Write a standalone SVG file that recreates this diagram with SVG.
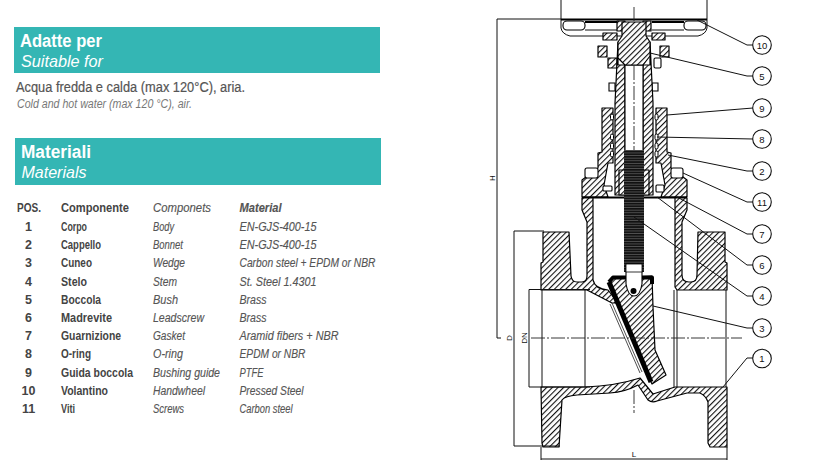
<svg xmlns="http://www.w3.org/2000/svg" width="820" height="462" viewBox="0 0 820 462">
<style>
text{font-family:"Liberation Sans",Arial,sans-serif}
.band{fill:#34b6b4}
.h1{font-size:18px;font-weight:700;fill:#fff}
.h2{font-size:17px;font-style:italic;fill:#fff}
.b{font-size:12.5px;font-weight:700;fill:#444}
.i{font-size:12.5px;font-style:italic;fill:#555;stroke:#555;stroke-width:.15}
.num{font-size:12.5px;font-weight:700;fill:#444;text-anchor:middle}
.h{fill:url(#hatch);stroke:#000;stroke-width:1.2;stroke-linejoin:round}
.w{fill:#fff;stroke:#000;stroke-width:1.1}
.l{fill:none;stroke:#111;stroke-width:1}
.cl{fill:none;stroke:#222;stroke-width:.9;stroke-dasharray:14 2 2 2}
.dim{font-size:8px;fill:#111;text-anchor:middle}
.lead{fill:none;stroke:#111;stroke-width:1}
.c{fill:#fff;stroke:#111;stroke-width:1.1}
.ct{font-size:9.5px;fill:#111;text-anchor:middle}
</style>
<defs>
<pattern id="hatch" width="4" height="4" patternUnits="userSpaceOnUse" patternTransform="rotate(45)"><rect width="4" height="4" fill="#fff"/><rect x="0" y="0" width="1.1" height="4" fill="#111"/></pattern>
<pattern id="thread" width="4" height="2.6" patternUnits="userSpaceOnUse"><rect width="4" height="2.6" fill="#111"/><rect y="1.7" width="4" height=".6" fill="#777"/></pattern>
</defs>
<rect width="820" height="462" fill="#fff"/>

<g id="banner-suitable"><rect class="band" x="14" y="27" width="366" height="46"/>
<text class="h1" x="20" y="46.500" textLength="82" lengthAdjust="spacingAndGlyphs">Adatte per</text>
<text class="h2" x="21" y="66.500" textLength="82" lengthAdjust="spacingAndGlyphs">Suitable for</text></g>
<text x="16" y="91.500" font-size="14" fill="#555" stroke="#555" stroke-width=".2" textLength="229" lengthAdjust="spacingAndGlyphs">Acqua fredda e calda (max 120°C), aria.</text>
<text x="17" y="107.500" font-size="12" font-style="italic" fill="#777" textLength="175" lengthAdjust="spacingAndGlyphs">Cold and hot water (max 120 °C), air.</text>
<g id="banner-materials"><rect class="band" x="15" y="138" width="366" height="47"/>
<text class="h1" x="21" y="157.500" textLength="70" lengthAdjust="spacingAndGlyphs">Materiali</text>
<text class="h2" x="21.500" y="177.500" textLength="65" lengthAdjust="spacingAndGlyphs">Materials</text></g>

<g id="table">
<text class="b" x="17" y="212.300" textLength="24" lengthAdjust="spacingAndGlyphs">POS.</text><text class="b" x="61" y="212.300" textLength="68" lengthAdjust="spacingAndGlyphs">Componente</text><text class="i" x="153" y="212.300" textLength="58" lengthAdjust="spacingAndGlyphs">Componets</text><text class="i" x="239.500" y="212.300" textLength="42" lengthAdjust="spacingAndGlyphs" font-weight="700">Material</text>
<text class="num" x="28.500" y="231">1</text><text class="b" x="61" y="231" textLength="26" lengthAdjust="spacingAndGlyphs">Corpo</text><text class="i" x="153" y="231" textLength="21" lengthAdjust="spacingAndGlyphs">Body</text><text class="i" x="239.500" y="231" textLength="77" lengthAdjust="spacingAndGlyphs">EN-GJS-400-15</text>
<text class="num" x="28.500" y="249.200">2</text><text class="b" x="61" y="249.200" textLength="40" lengthAdjust="spacingAndGlyphs">Cappello</text><text class="i" x="153" y="249.200" textLength="30" lengthAdjust="spacingAndGlyphs">Bonnet</text><text class="i" x="239.500" y="249.200" textLength="77" lengthAdjust="spacingAndGlyphs">EN-GJS-400-15</text>
<text class="num" x="28.500" y="267.400">3</text><text class="b" x="61" y="267.400" textLength="31" lengthAdjust="spacingAndGlyphs">Cuneo</text><text class="i" x="153" y="267.400" textLength="32" lengthAdjust="spacingAndGlyphs">Wedge</text><text class="i" x="239.500" y="267.400" textLength="136" lengthAdjust="spacingAndGlyphs">Carbon steel + EPDM or NBR</text>
<text class="num" x="28.500" y="285.600">4</text><text class="b" x="61" y="285.600" textLength="26" lengthAdjust="spacingAndGlyphs">Stelo</text><text class="i" x="153" y="285.600" textLength="24" lengthAdjust="spacingAndGlyphs">Stem</text><text class="i" x="239.500" y="285.600" textLength="77" lengthAdjust="spacingAndGlyphs">St. Steel 1.4301</text>
<text class="num" x="28.500" y="303.800">5</text><text class="b" x="61" y="303.800" textLength="40" lengthAdjust="spacingAndGlyphs">Boccola</text><text class="i" x="153" y="303.800" textLength="25" lengthAdjust="spacingAndGlyphs">Bush</text><text class="i" x="239.500" y="303.800" textLength="27" lengthAdjust="spacingAndGlyphs">Brass</text>
<text class="num" x="28.500" y="322">6</text><text class="b" x="61" y="322" textLength="51" lengthAdjust="spacingAndGlyphs">Madrevite</text><text class="i" x="153" y="322" textLength="51" lengthAdjust="spacingAndGlyphs">Leadscrew</text><text class="i" x="239.500" y="322" textLength="27" lengthAdjust="spacingAndGlyphs">Brass</text>
<text class="num" x="28.500" y="340.200">7</text><text class="b" x="61" y="340.200" textLength="60" lengthAdjust="spacingAndGlyphs">Guarnizione</text><text class="i" x="153" y="340.200" textLength="32" lengthAdjust="spacingAndGlyphs">Gasket</text><text class="i" x="239.500" y="340.200" textLength="99" lengthAdjust="spacingAndGlyphs">Aramid fibers + NBR</text>
<text class="num" x="28.500" y="358.400">8</text><text class="b" x="61" y="358.400" textLength="30" lengthAdjust="spacingAndGlyphs">O-ring</text><text class="i" x="153" y="358.400" textLength="30" lengthAdjust="spacingAndGlyphs">O-ring</text><text class="i" x="239.500" y="358.400" textLength="66" lengthAdjust="spacingAndGlyphs">EPDM or NBR</text>
<text class="num" x="28.500" y="376.600">9</text><text class="b" x="61" y="376.600" textLength="72" lengthAdjust="spacingAndGlyphs">Guida boccola</text><text class="i" x="153" y="376.600" textLength="67" lengthAdjust="spacingAndGlyphs">Bushing guide</text><text class="i" x="239.500" y="376.600" textLength="24" lengthAdjust="spacingAndGlyphs">PTFE</text>
<text class="num" x="28.500" y="394.800">10</text><text class="b" x="61" y="394.800" textLength="47" lengthAdjust="spacingAndGlyphs">Volantino</text><text class="i" x="153" y="394.800" textLength="52" lengthAdjust="spacingAndGlyphs">Handwheel</text><text class="i" x="239.500" y="394.800" textLength="64" lengthAdjust="spacingAndGlyphs">Pressed Steel</text>
<text class="num" x="28.500" y="413">11</text><text class="b" x="61" y="413" textLength="14" lengthAdjust="spacingAndGlyphs">Viti</text><text class="i" x="153" y="413" textLength="31" lengthAdjust="spacingAndGlyphs">Screws</text><text class="i" x="239.500" y="413" textLength="53" lengthAdjust="spacingAndGlyphs">Carbon steel</text>
</g>

<g id="valve">
<path class="l" d="M561,0V28Q562,34 570,36H698Q706,34 707,28V0" stroke-width="1.400"/>
<path d="M561,19.500H707" stroke="#000" stroke-width="1.800" fill="none"/>
<rect class="w" x="563" y="21" width="22" height="9" rx="4" stroke-width="1.500"/><rect class="w" x="684" y="21" width="22" height="9" rx="4" stroke-width="1.500"/>
<path d="M585,22H617M652,22H684" stroke="#000" stroke-width="2" fill="none"/>
<path class="l" d="M585,30H617M652,30H684"/>
<path class="h" d="M603,33H617V40H603ZM652,33H665V40H652Z"/>
<path class="h" d="M617,21H625V31H617ZM643,21H651V31H643Z"/>
<path class="h" d="M598,46H607V57H598ZM660,46H669V57H660ZM608,58H617V68H608Z"/>
<rect class="w" x="654" y="58" width="7" height="10" rx="1.500"/>
<path class="w" d="M609,83H615V91H609ZM652,83H658V91H652Z"/>
<path class="h" d="M618,42L615,103V195H625V65H618Z"/>
<path class="h" d="M650,42L653,103V195H643V65H650Z"/>
<rect class="w" x="625" y="65" width="18" height="86"/>
<path class="h" d="M622,22H646V36L650,42V56L643,65H625L618,58V42L622,36Z"/>
<path class="h" d="M602,108H613V163H608L604,185L608,197H582V180L598,168V153L602,152Z"/>
<path class="h" d="M667,108H656V163H661L665,185L661,197H687V180L671,168V153L667,152Z"/>
<path class="h" d="M619,170H625V195H619ZM643,170H649V195H643Z"/>
<rect class="w" x="585" y="168" width="13" height="10" rx="2"/><rect class="w" x="671" y="168" width="12" height="10" rx="2"/>
<rect class="w" x="603" y="186" width="9" height="5" rx="1"/><rect class="w" x="656" y="185" width="8" height="7" rx="1"/>
<g fill="#fff" stroke="#000" stroke-width="1"><rect x="610.500" y="114" width="3" height="6" rx="1.500"/><rect x="610.500" y="134" width="3" height="6" rx="1.500"/><rect x="610.500" y="143" width="3" height="6" rx="1.500"/><rect x="610.500" y="151" width="3" height="6" rx="1.500"/><rect x="655" y="114" width="3" height="6" rx="1.500"/><rect x="655" y="134" width="3" height="6" rx="1.500"/><rect x="655" y="143" width="3" height="6" rx="1.500"/><rect x="655" y="151" width="3" height="6" rx="1.500"/></g>
<path d="M582,197.500H687" stroke="#000" stroke-width="2.200" fill="none"/>
<path class="h" d="M543,232H569L571,276Q572,282 577,282H582Q587,282 587,276V222L582,210V198H593V280Q595,289 608,290L618,303H612L587,290H541V263L543,262Z"/>
<path class="h" d="M698,232H725V262L727,263V290H677L675,287V198H687V210L682,222V275Q682,282 689,282H691Q697,282 697,275Z"/>
<path class="h" d="M541,387H585Q615,386 640,378L653,394L675,387H727V447H710L708,443V402Q706,396 700,393H687L657,401Q652,403 648,400L638,385Q625,392 610,393L577,395Q565,396 562,400L559,447H543L542,443Z"/>
<path class="l" d="M542,290V387M585,290V387M674,290V387M677,290V387M726,290V387"/>
<path class="h" d="M609,283L613,278L652,276L653,307L655,350L666,375L652,384L645,370Z" stroke-width="1.600"/>
<path d="M609,282L613,277.500H626M641,277.500H652V284" stroke="#000" stroke-width="4" fill="none" stroke-linejoin="round"/>
<path d="M609,282L651,382" stroke="#000" stroke-width="5" fill="none"/>
<path d="M612,303L642,372M610,304L640,373" stroke="#222" stroke-width=".8" fill="none"/>
<path class="w" d="M626,264H642V284Q640,296 634,296Q628,296 626,284Z"/>
<circle cx="633.500" cy="291" r="3" fill="#000"/>
<rect x="624" y="150" width="20" height="122" fill="url(#thread)"/>
<rect x="626" y="264" width="16" height="8" fill="#fff" stroke="#000" stroke-width=".8"/>
<path class="cl" d="M531,338H742"/>
<path class="cl" d="M634,7V22M634,66V150M634,390V413"/>
<g class="l"><path d="M497,19H561M497,19V338M497,338H501"/><path d="M514,231H544M514,231V446M514,446H560"/><path d="M529,289.500H590M529,289.500V387M529,387H590"/><path d="M541,447V460M727,447V460M541,459H727"/></g>
<text class="dim" transform="translate(495,178) rotate(-90)">H</text>
<text class="dim" transform="translate(512,338) rotate(-90)">D</text>
<text class="dim" transform="translate(527,338) rotate(-90)">DN</text>
<text class="dim" x="634" y="456.500">L</text>
</g>

<g id="connectors" class="lead">
<path d="M697,20L747,45H753"/><path d="M650,53L747,76H753"/><path d="M667,115L753,108"/><path d="M657,137L753,139"/><path d="M668,155L747,171H753"/><path d="M683,173L747,202H753"/><path d="M677,197L747,234H753"/><path d="M657,197L747,265H753"/><path d="M634,217L747,296H753"/><path d="M653,306L747,328H753"/><path d="M723,387L747,358H753"/>
</g>
<g id="n10"><circle class="c" cx="762" cy="45" r="9.300"/><text class="ct" x="762" y="48.500">10</text></g>
<g id="n5"><circle class="c" cx="762" cy="76" r="9.300"/><text class="ct" x="762" y="79.500">5</text></g>
<g id="n9"><circle class="c" cx="762" cy="108" r="9.300"/><text class="ct" x="762" y="111.500">9</text></g>
<g id="n8"><circle class="c" cx="762" cy="139" r="9.300"/><text class="ct" x="762" y="142.500">8</text></g>
<g id="n2"><circle class="c" cx="762" cy="171" r="9.300"/><text class="ct" x="762" y="174.500">2</text></g>
<g id="n11"><circle class="c" cx="762" cy="202" r="9.300"/><text class="ct" x="762" y="205.500">11</text></g>
<g id="n7"><circle class="c" cx="762" cy="234" r="9.300"/><text class="ct" x="762" y="237.500">7</text></g>
<g id="n6"><circle class="c" cx="762" cy="265" r="9.300"/><text class="ct" x="762" y="268.500">6</text></g>
<g id="n4"><circle class="c" cx="762" cy="296" r="9.300"/><text class="ct" x="762" y="299.500">4</text></g>
<g id="n3"><circle class="c" cx="762" cy="328" r="9.300"/><text class="ct" x="762" y="331.500">3</text></g>
<g id="n1"><circle class="c" cx="762" cy="358.500" r="9.300"/><text class="ct" x="762" y="362">1</text></g>
</svg>
